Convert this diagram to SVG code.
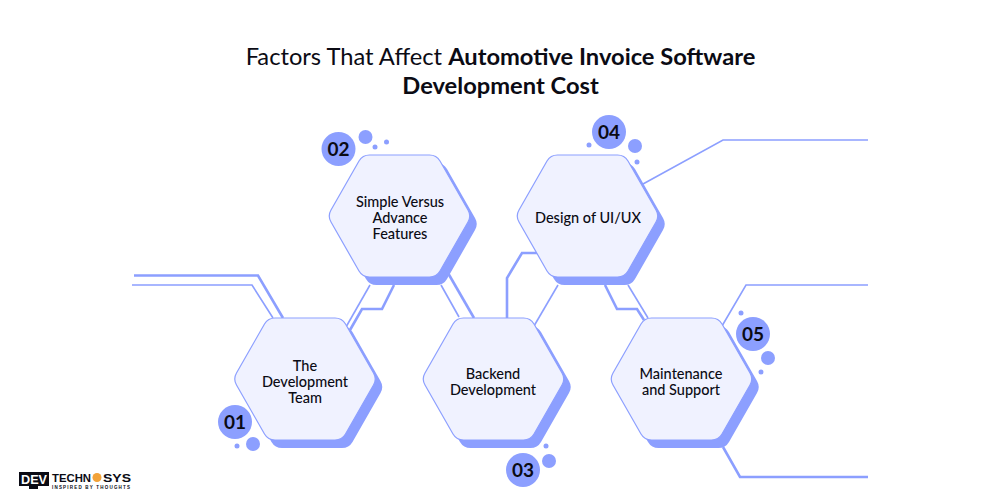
<svg xmlns="http://www.w3.org/2000/svg" width="1000" height="500" viewBox="0 0 1000 500">
<style>
text{font-family:"Lato","Noto Sans",sans-serif;fill:#0b0b14}
.t{font-size:23.7px;text-anchor:middle}
.t tspan.b{font-weight:700}
.l{font-size:14.5px;font-weight:500;text-anchor:middle}
.n{font-size:19px;font-weight:700;text-anchor:middle}
.c1{fill:none;stroke:#8c9fff;stroke-width:1.6}
.c2{fill:none;stroke:#8c9fff;stroke-width:2.6}
.hx{fill:#f0f2ff;stroke:#8c9fff;stroke-width:1.2}
.sh{fill:#8c9fff}
.d{fill:#8c9fff}
.lg{font-family:"Liberation Sans",sans-serif;font-weight:700}
</style>
<defs>
<path id="hex" d="M-68.500-6L-40.500-55Q-37-61-30-61H30Q37-61 40.500-55L68.500-6Q72 0 68.500 6L40.500 55Q37 61 30 61H-30Q-37 61-40.500 55L-68.500 6Q-72 0-68.500-6Z"/>
</defs>
<rect width="1000" height="500" fill="#fff"/>
<text class="t" x="500.500" y="65">Factors That Affect <tspan class="b">Automotive Invoice Software</tspan></text>
<text class="t" x="500.500" y="94"><tspan class="b">Development Cost</tspan></text>
<g id="connectors">
<path class="c2" d="M134 275.500H258L283 318"/>
<path class="c1" d="M132 285H252L273 318"/>
<path class="c1" d="M370 285L346 327"/>
<path class="c2" d="M394 285L382 309H362L350 330"/>
<path class="c1" d="M441 285L459 317"/>
<path class="c2" d="M448 273L474 318"/>
<path class="c2" d="M507 318V278L522 253H538"/>
<path class="c1" d="M558 285L534 326"/>
<path class="c1" d="M643 184L723 140H868"/>
<path class="c1" d="M628 285L648 318"/>
<path class="c2" d="M605 285L617 309H637L644 320"/>
<path class="c1" d="M722 326L746 285H868"/>
<path class="c2" d="M723 447L740 477H868"/>
</g>
<g id="node-01">
<use href="#hex" class="sh" x="312" y="387"/>
<use href="#hex" class="hx" x="305" y="379"/>
<text class="l" x="305" y="371">The</text><text class="l" x="305" y="387">Development</text><text class="l" x="305" y="403">Team</text>
<circle class="d" cx="235" cy="422" r="17"/><circle class="d" cx="253" cy="444" r="7"/><circle class="d" cx="237" cy="446" r="2.500"/>
<text class="n" x="235" y="429">01</text>
</g>
<g id="node-02">
<use href="#hex" class="sh" x="406.500" y="224"/>
<use href="#hex" class="hx" x="399.500" y="216"/>
<text class="l" x="400" y="207">Simple Versus</text><text class="l" x="400" y="223">Advance</text><text class="l" x="400" y="239">Features</text>
<circle class="d" cx="338.500" cy="149" r="17"/><circle class="d" cx="365.500" cy="137" r="7"/><circle class="d" cx="375" cy="147" r="2.500"/><circle class="d" cx="386.500" cy="142" r="2.500"/>
<text class="n" x="338.500" y="156">02</text>
</g>
<g id="node-03">
<use href="#hex" class="sh" x="500.500" y="387"/>
<use href="#hex" class="hx" x="493.500" y="379"/>
<text class="l" x="493" y="379">Backend</text><text class="l" x="493" y="395">Development</text>
<circle class="d" cx="523" cy="470" r="17"/><circle class="d" cx="549" cy="461" r="7"/><circle class="d" cx="546" cy="446" r="2.500"/>
<text class="n" x="523" y="477">03</text>
</g>
<g id="node-04">
<use href="#hex" class="sh" x="594.500" y="224"/>
<use href="#hex" class="hx" x="587.500" y="216"/>
<text class="l" x="588" y="223">Design of UI/UX</text>
<circle class="d" cx="609" cy="132" r="17"/><circle class="d" cx="635" cy="146" r="7"/><circle class="d" cx="589" cy="145" r="2.500"/><circle class="d" cx="637" cy="162" r="2.500"/>
<text class="n" x="609" y="139">04</text>
</g>
<g id="node-05">
<use href="#hex" class="sh" x="688.500" y="387"/>
<use href="#hex" class="hx" x="681.500" y="379"/>
<text class="l" x="681" y="379">Maintenance</text><text class="l" x="681" y="395">and Support</text>
<circle class="d" cx="753" cy="334" r="17"/><circle class="d" cx="768" cy="358" r="7"/><circle class="d" cx="741" cy="313" r="2.500"/><circle class="d" cx="761" cy="372" r="2.500"/>
<text class="n" x="753" y="341">05</text>
</g>
<g id="logo">
<rect x="19" y="472" width="30" height="14" fill="#0b0b14"/>
<rect x="29" y="486" width="9" height="3" fill="#0b0b14"/>
<text class="lg" x="21" y="484" style="font-size:12.500px;fill:#fff" textLength="26" lengthAdjust="spacingAndGlyphs">DEV</text>
<text class="lg" x="52" y="481.500" style="font-size:11.500px" textLength="39" lengthAdjust="spacingAndGlyphs">TECHN</text>
<circle cx="97" cy="477.500" r="4.500" fill="#f2a33a"/>
<text class="lg" x="103" y="481.500" style="font-size:11.500px" textLength="28" lengthAdjust="spacingAndGlyphs">SYS</text>
<text class="lg" x="52" y="489" style="font-size:4.500px" textLength="78" lengthAdjust="spacing">INSPIRED BY THOUGHTS</text>
</g>
</svg>
